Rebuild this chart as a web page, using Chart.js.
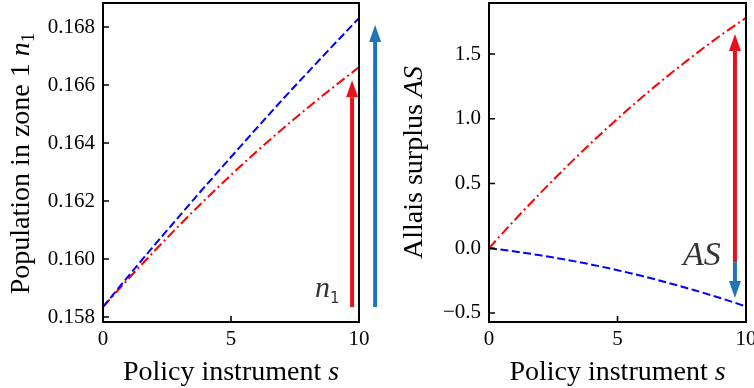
<!DOCTYPE html>
<html>
<head>
<meta charset="utf-8">
<script src="https://cdn.jsdelivr.net/npm/chart.js@4.4.1/dist/chart.umd.min.js"></script>
<style>
  html, body { margin: 0; padding: 0; background: #fff; overflow: hidden; width: 754px; height: 388px; }
  canvas { position: absolute; top: 0; }
  #popChart { left: 0; }
  #surplusChart { left: 377px; }
</style>
</head>
<body>
<canvas id="popChart" width="385" height="388"></canvas>
<canvas id="surplusChart" width="390" height="388"></canvas>
<script>
// policy instrument s
const policyS = [0, 1, 2, 3, 4, 5, 6, 7, 8, 9, 10];

// left panel: population in zone 1
const popBlue = [0.15835, 0.15942, 0.16047, 0.16150, 0.16252, 0.16352, 0.16451, 0.16549, 0.16644, 0.16738, 0.16831];
const popRed  = [0.15835, 0.15933, 0.16027, 0.16118, 0.16206, 0.16290, 0.16371, 0.16448, 0.16522, 0.16593, 0.16662];

// right panel: Allais surplus
const surplusBlue = [0, -0.025, -0.055, -0.089, -0.127, -0.170, -0.217, -0.269, -0.325, -0.385, -0.450];
const surplusRed  = [0, 0.218, 0.426, 0.626, 0.818, 1.000, 1.174, 1.338, 1.494, 1.642, 1.780];

// ticks
const xTicks = [0, 5, 10];
const popTicks = [0.158, 0.160, 0.162, 0.164, 0.166, 0.168];
const surplusTicks = [-0.5, 0.0, 0.5, 1.0, 1.5];

// arrows: [s, from, to]
const popArrowRed = [9.73, 0.15835, 0.16617];
const popArrowBlue = [10.63, 0.15835, 0.16807];
const surplusArrowRed = [9.57, -0.108, 1.654];
const surplusArrowBlue = [9.57, -0.108, -0.385];

const RED = '#e8101f';
const BLUE = '#1f75b8';
const SERIF = '"Liberation Serif", "DejaVu Serif", serif';

function pts(ys) {
    return policyS.map((s, i) => ({ x: s, y: ys[i] }));
}

function drawRich(ctx, parts, x, y, rotate) {
    ctx.save();
    ctx.translate(x, y);
    if (rotate) ctx.rotate(-Math.PI / 2);
    ctx.textBaseline = 'alphabetic';
    ctx.textAlign = 'left';
    let total = 0;
    parts.forEach(p => { ctx.font = p.font; p.w = ctx.measureText(p.text).width; total += p.w; });
    let cx = -total / 2;
    parts.forEach(p => {
        ctx.font = p.font;
        ctx.fillStyle = p.color || '#000';
        ctx.fillText(p.text, cx, p.dy || 0);
        cx += p.w;
    });
    ctx.restore();
}

function drawArrow(ctx, px, y0, y1, color) {
    const dir = y1 < y0 ? -1 : 1;
    const headLen = 17, headW = 6;
    ctx.save();
    ctx.strokeStyle = color;
    ctx.fillStyle = color;
    ctx.lineWidth = 4;
    ctx.beginPath();
    ctx.moveTo(px, y0);
    ctx.lineTo(px, y1 - dir * headLen);
    ctx.stroke();
    ctx.beginPath();
    ctx.moveTo(px, y1);
    ctx.lineTo(px - headW, y1 - dir * headLen);
    ctx.lineTo(px + headW, y1 - dir * headLen);
    ctx.closePath();
    ctx.fill();
    ctx.restore();
}

const decor = {
    id: 'decor',
    afterDatasetsDraw(chart, args, opts) {
        const { ctx, chartArea: a } = chart;
        const x = chart.scales.x, y = chart.scales.y;
        ctx.save();
        // inward ticks
        ctx.strokeStyle = '#000';
        ctx.lineWidth = 1.6;
        ctx.beginPath();
        x.ticks.forEach(t => {
            const px = x.getPixelForValue(t.value);
            ctx.moveTo(px, a.bottom);
            ctx.lineTo(px, a.bottom - 6);
        });
        y.ticks.forEach(t => {
            const py = y.getPixelForValue(t.value);
            ctx.moveTo(a.left, py);
            ctx.lineTo(a.left + 6, py);
        });
        ctx.stroke();
        // frame
        ctx.lineWidth = 2;
        ctx.strokeRect(a.left, a.top, a.right - a.left, a.bottom - a.top);
        ctx.restore();

        opts.arrows.forEach(ar => {
            drawArrow(ctx, x.getPixelForValue(ar.v[0]), y.getPixelForValue(ar.v[1]), y.getPixelForValue(ar.v[2]), ar.color);
        });

        // annotation label
        const lb = opts.label;
        const lx = x.getPixelForValue(lb.s), ly = y.getPixelForValue(lb.y);
        ctx.save();
        ctx.textBaseline = 'alphabetic';
        ctx.textAlign = 'left';
        ctx.fillStyle = '#333';
        let cx = lx;
        lb.parts.forEach(p => {
            ctx.font = p.font;
            ctx.fillText(p.text, cx, ly + (p.dy || 0));
            cx += ctx.measureText(p.text).width;
        });
        ctx.restore();

        // axis titles
        drawRich(ctx, opts.xTitle, (a.left + a.right) / 2, 380, false);
        drawRich(ctx, opts.yTitle.parts, opts.yTitle.x, (a.top + a.bottom) / 2 + opts.yTitle.dy, true);
    }
};

function noPad(s) {
    s.paddingTop = 0; s.paddingBottom = 0; s.paddingLeft = 0; s.paddingRight = 0;
}

function makeChart(id, blue, red, yMin, yMax, yTicks, yFmt, yWidth, padRight, decorOpts) {
    return new Chart(document.getElementById(id), {
        type: 'line',
        data: {
            datasets: [
                { data: pts(blue), borderColor: '#0000ff', borderWidth: 2, borderDash: [8, 3.5], pointRadius: 0, cubicInterpolationMode: 'monotone' },
                { data: pts(red), borderColor: '#ff0000', borderWidth: 2, borderDash: [10, 3.5, 2, 3.5], pointRadius: 0, cubicInterpolationMode: 'monotone' }
            ]
        },
        options: {
            responsive: false,
            animation: false,
            events: [],
            layout: { padding: { left: 0, right: padRight, top: 3, bottom: 0 } },
            plugins: { legend: { display: false }, tooltip: { enabled: false }, decor: decorOpts },
            scales: {
                x: {
                    type: 'linear', min: 0, max: 10,
                    afterBuildTicks: s => { s.ticks = xTicks.map(v => ({ value: v })); },
                    afterFit: s => { s.height = 66; noPad(s); },
                    grid: { display: false, drawTicks: false },
                    border: { display: false },
                    ticks: { color: '#000', padding: 5, maxRotation: 0, font: { family: SERIF, size: 21 }, callback: v => String(v) }
                },
                y: {
                    type: 'linear', min: yMin, max: yMax,
                    afterBuildTicks: s => { s.ticks = yTicks.map(v => ({ value: v })); },
                    afterFit: s => { s.width = yWidth; noPad(s); },
                    grid: { display: false, drawTicks: false },
                    border: { display: false },
                    ticks: { color: '#000', padding: 8, font: { family: SERIF, size: 21 }, callback: yFmt }
                }
            }
        },
        plugins: [decor]
    });
}

const titleFont = '28px ' + SERIF;
const titleItalic = 'italic 28px ' + SERIF;
const xTitle = [{ text: 'Policy instrument ', font: titleFont }, { text: 's', font: titleItalic }];

makeChart('popChart', popBlue, popRed, 0.15783, 0.16883, popTicks, v => v.toFixed(3), 103, 26, {
    arrows: [{ v: popArrowRed, color: RED }, { v: popArrowBlue, color: BLUE }],
    label: { s: 8.28, y: 0.15869, parts: [
        { text: 'n', font: 'italic 30px ' + SERIF },
        { text: '1', font: '15px "DejaVu Sans"', dy: 6 }
    ] },
    xTitle: xTitle,
    yTitle: { x: 29, dy: 1, parts: [
        { text: 'Population in zone 1 ', font: titleFont },
        { text: 'n', font: titleItalic },
        { text: '1', font: '19px ' + SERIF, dy: 5 }
    ] }
});

makeChart('surplusChart', surplusBlue, surplusRed, -0.57, 1.894, surplusTicks, v => v.toFixed(1).replace('-', '\u2212'), 112, 21, {
    arrows: [{ v: surplusArrowRed, color: RED }, { v: surplusArrowBlue, color: BLUE }],
    label: { s: 7.55, y: -0.131, parts: [
        { text: 'AS', font: 'italic 34px ' + SERIF }
    ] },
    xTitle: xTitle,
    yTitle: { x: 45, dy: 0, parts: [
        { text: 'Allais surplus ', font: titleFont },
        { text: 'AS', font: titleItalic }
    ] }
});
</script>
</body>
</html>
